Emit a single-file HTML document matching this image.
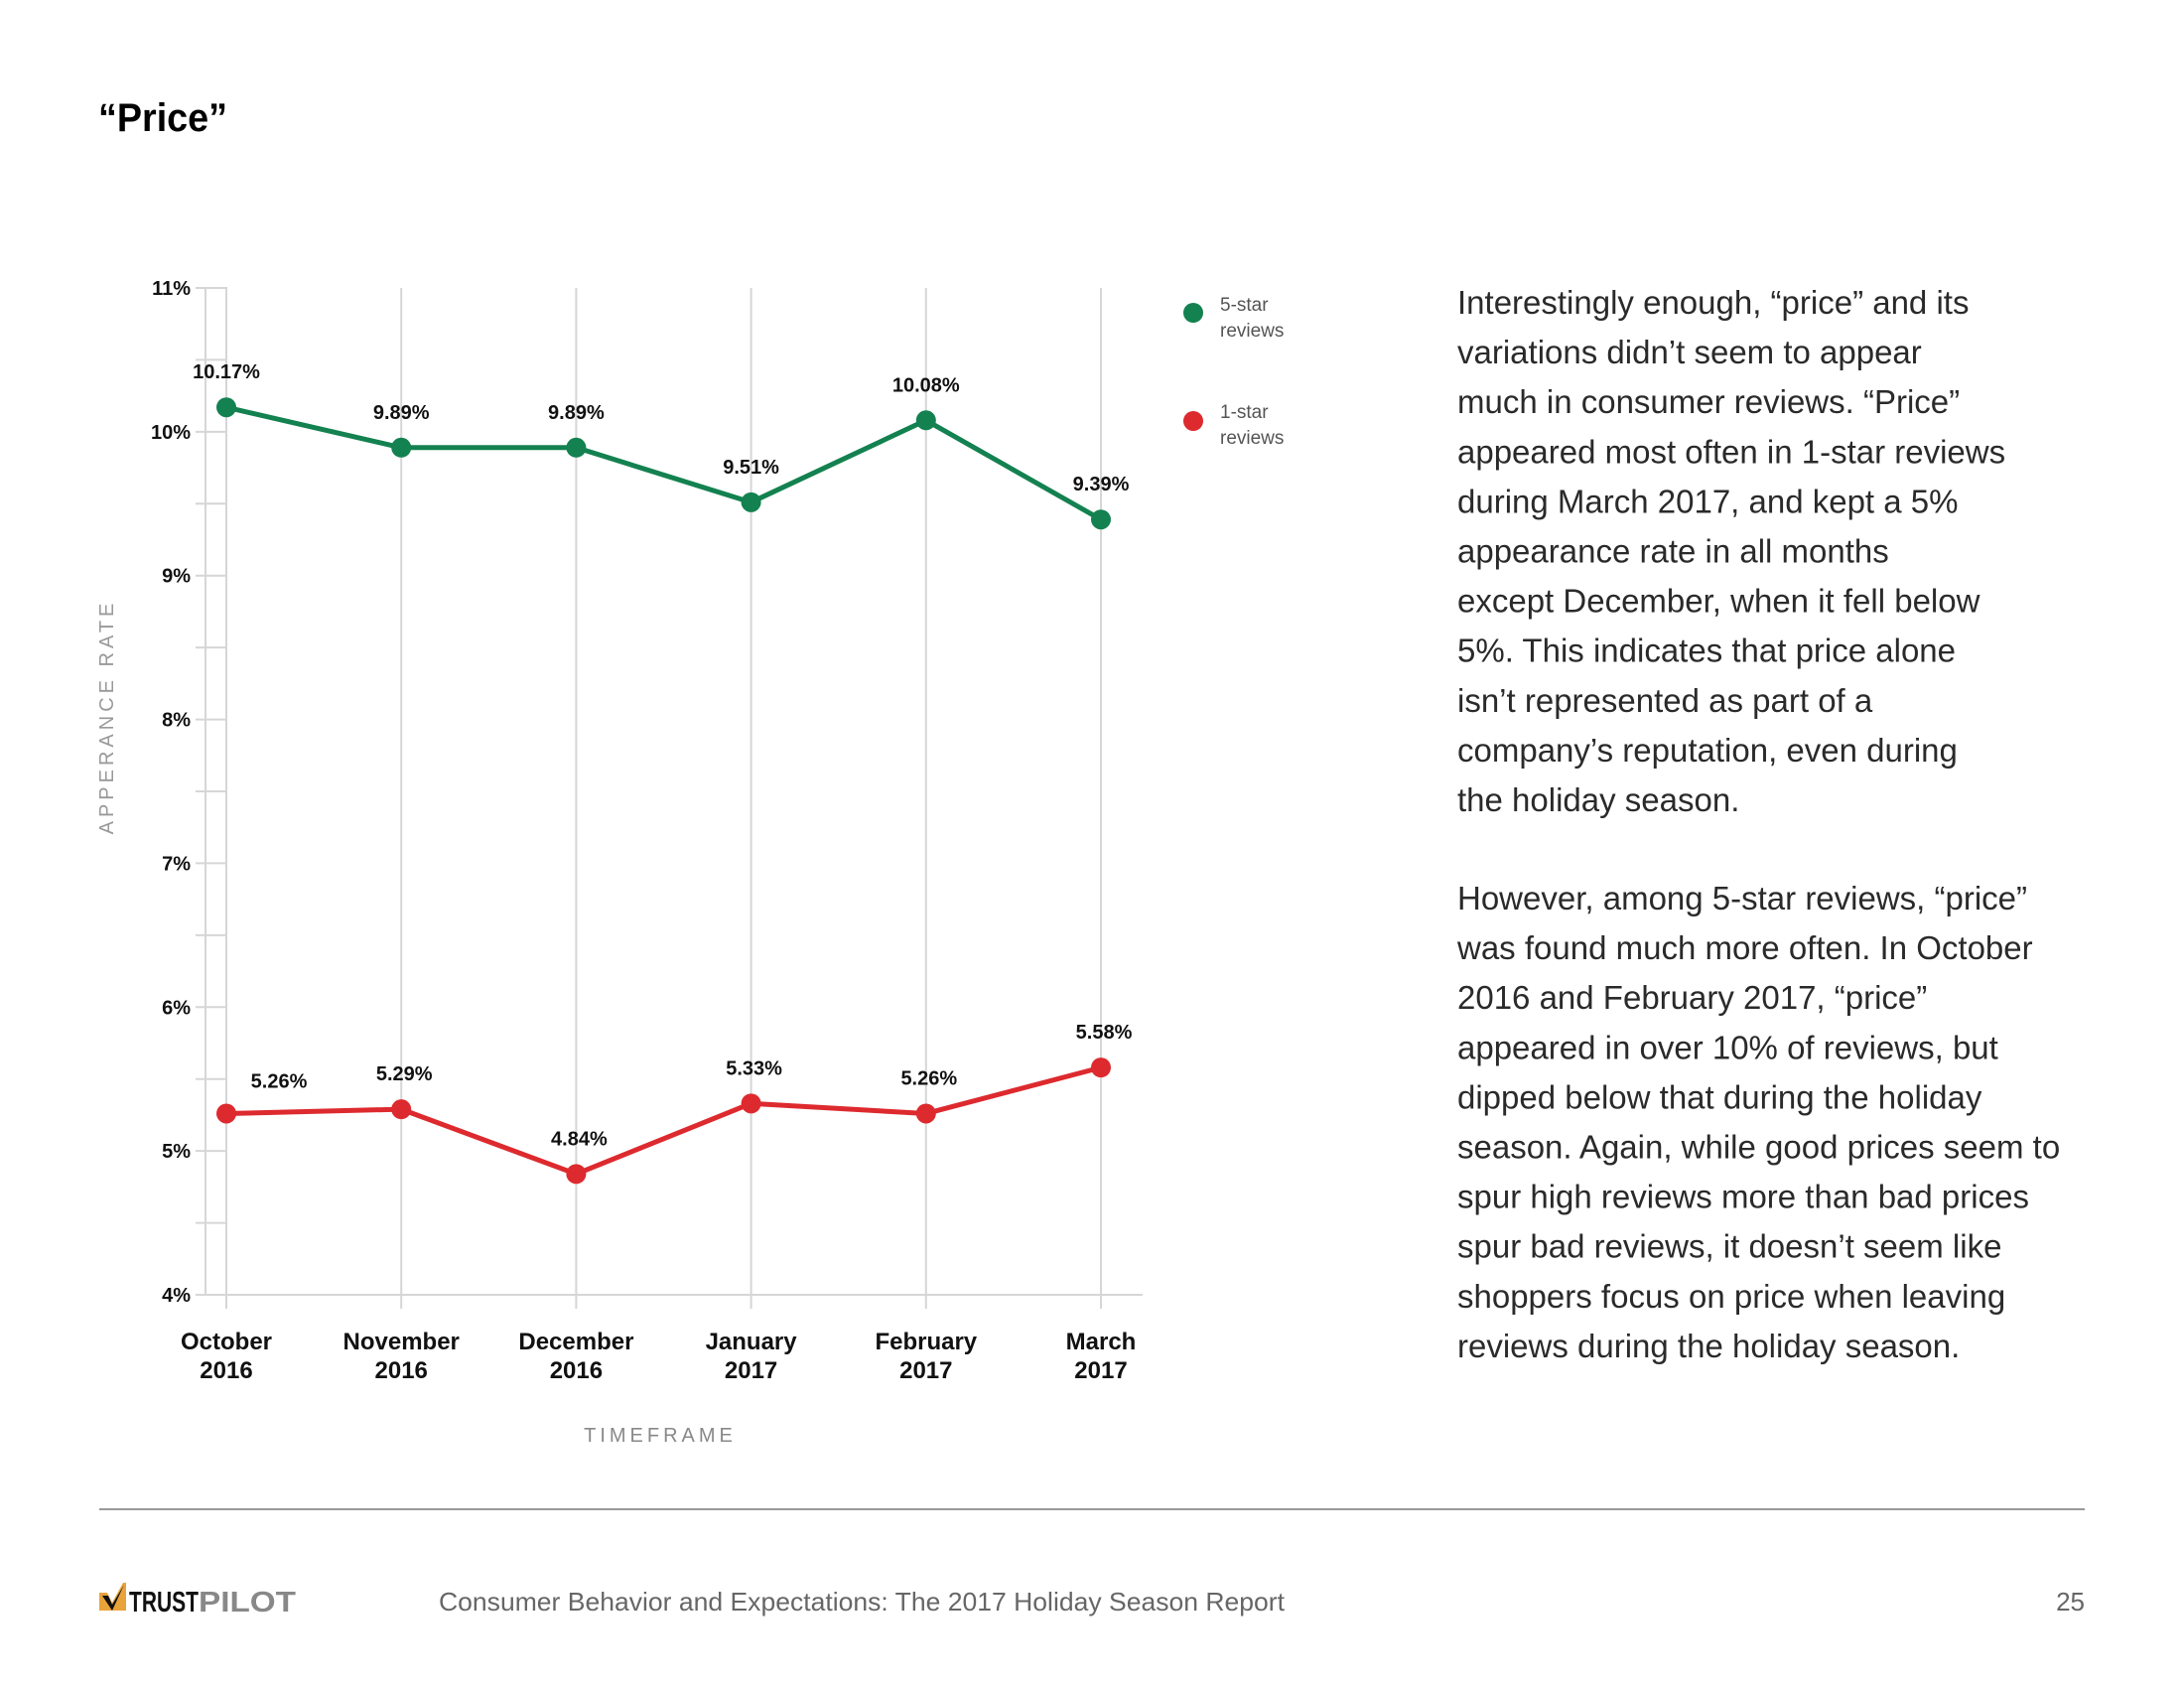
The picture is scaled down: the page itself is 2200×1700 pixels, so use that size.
<!DOCTYPE html>
<html><head><meta charset="utf-8"><style>
html,body{margin:0;padding:0;background:#fff;}
svg{display:block;font-family:"Liberation Sans",sans-serif;}
</style></head><body>
<svg id="page" width="2200" height="1700" viewBox="0 0 2200 1700">
<text x="99" y="132" font-size="40" font-weight="bold" fill="#000" textLength="130" lengthAdjust="spacingAndGlyphs">“Price”</text>
<g id="chart"></g>
<g>
 <g>
  <circle cx="1202" cy="315" r="10" fill="#138150"/>
  <text x="1229" y="313" font-size="19" fill="#555">5-star</text>
  <text x="1229" y="339" font-size="19" fill="#555">reviews</text>
 </g>
 <g>
  <circle cx="1202" cy="424" r="10" fill="#dd2a2e"/>
  <text x="1229" y="421" font-size="19" fill="#555">1-star</text>
  <text x="1229" y="447" font-size="19" fill="#555">reviews</text>
 </g>
</g>
<g id="para" font-size="33" fill="#2a2a2a"></g>
<line x1="100" y1="1520" x2="2100" y2="1520" stroke="#999" stroke-width="2"/>
<g>
 <path d="M100 1604 L108 1604 L113 1614 L124 1594 L127 1594 L127 1622 L100 1622 Z" fill="#e8a33a"/>
 <path d="M103 1607 L109 1607 L113 1616 L125 1596 L113 1622 Z" fill="#111"/>
 <text x="130" y="1623" font-size="29" font-weight="bold" fill="#111" textLength="70" lengthAdjust="spacingAndGlyphs">TRUST</text>
 <text x="200" y="1623" font-size="29" font-weight="bold" fill="#888" textLength="98" lengthAdjust="spacingAndGlyphs">PILOT</text>
</g>
<text x="442" y="1622" font-size="26" fill="#666" textLength="852" lengthAdjust="spacingAndGlyphs">Consumer Behavior and Expectations: The 2017 Holiday Season Report</text>
<text x="2100" y="1622" font-size="26" fill="#666" text-anchor="end">25</text>
</svg>
<script>
const categories1 = ["October","November","December","January","February","March"];
const categories2 = ["2016","2016","2016","2017","2017","2017"];
const fiveStar = [10.17, 9.89, 9.89, 9.51, 10.08, 9.39];
const oneStar = [5.26, 5.29, 4.84, 5.33, 5.26, 5.58];
const yTicks = [4,5,6,7,8,9,10,11];
const yTickLabels = ["4%","5%","6%","7%","8%","9%","10%","11%"];

const NS = "http://www.w3.org/2000/svg";
const chart = document.getElementById('chart');
const X0 = 228, X1 = 1109, Y0 = 1304, Y1 = 290, YMIN = 4, YMAX = 11;
function xs(i){ return X0 + i*(X1-X0)/(categories1.length-1); }
function ys(v){ return Y0 - (v-YMIN)*(Y0-Y1)/(YMAX-YMIN); }
function mk(tag, attrs, parent){ const e=document.createElementNS(NS,tag); for(const k in attrs) e.setAttribute(k,attrs[k]); (parent||chart).appendChild(e); return e; }

categories1.forEach((c,i)=>{
  const l = mk('line',{x1:xs(i),x2:xs(i),y1:Y1,y2:Y0+14,stroke:'#d6d6d6','stroke-width':2});
  
  
});
const ya = mk('line',{x1:207,x2:207,y1:Y1,y2:Y0,stroke:'#d6d6d6','stroke-width':2});


const xa = mk('line',{x1:197,x2:1151,y1:Y0,y2:Y0,stroke:'#d6d6d6','stroke-width':2});


for(let v=YMIN; v<=YMAX; v+=0.5){
  const t = mk('line',{x1:197,x2:229,y1:ys(v),y2:ys(v),stroke:'#d6d6d6','stroke-width':2});
  
  
}
yTicks.forEach((v,i)=>{
  const t = mk('text',{x:192,y:ys(v)+7,'font-size':20,'font-weight':'bold','text-anchor':'end',fill:'#111'});
  t.textContent = yTickLabels[i];
  
  
});
categories1.forEach((c,i)=>{
  const t = mk('text',{x:xs(i),y:1359,'font-size':24,'font-weight':'bold','text-anchor':'middle',fill:'#111'});
  t.textContent = c;
  
  
  const t2 = mk('text',{x:xs(i),y:1388,'font-size':24,'font-weight':'bold','text-anchor':'middle',fill:'#111'});
  t2.textContent = categories2[i];
  
  
});
const xt = mk('text',{x:665,y:1452,'font-size':20,'text-anchor':'middle',fill:'#888','letter-spacing':4});
xt.textContent='TIMEFRAME';


const yt = mk('text',{x:0,y:0,'font-size':20,'text-anchor':'middle',fill:'#999','letter-spacing':4,transform:'translate(114,722) rotate(-90)'});
yt.textContent='APPERANCE RATE';



function series(vals, color, name, labelOffsets){
  const pts = vals.map((v,i)=>xs(i)+','+ys(v)).join(' ');
  const pl = mk('polyline',{points:pts,fill:'none',stroke:color,'stroke-width':5,'stroke-linejoin':'round'});
  
  
  vals.forEach((v,i)=>{
    const c = mk('circle',{cx:xs(i),cy:ys(v),r:10,fill:color});
    
    
    const o = labelOffsets(i);
    const t = mk('text',{x:xs(i)+o[0],y:ys(v)+o[1],'font-size':20,'font-weight':'bold','text-anchor':'middle',fill:'#111'});
    t.textContent = v.toFixed(2)+'%';
    
    
  });
}
series(fiveStar,'#138150','five-star',i=>[0,-29]);
series(oneStar,'#dd2a2e','one-star',i=> i===0?[53,-26]:[3,-29]);

const lines1 = ["Interestingly enough, “price” and its","variations didn’t seem to appear","much in consumer reviews. “Price”","appeared most often in 1-star reviews","during March 2017, and kept a 5%","appearance rate in all months","except December, when it fell below","5%. This indicates that price alone","isn’t represented as part of a","company’s reputation, even during","the holiday season."];
const lines2 = ["However, among 5-star reviews, “price”","was found much more often. In October","2016 and February 2017, “price”","appeared in over 10% of reviews, but","dipped below that during the holiday","season. Again, while good prices seem to","spur high reviews more than bad prices","spur bad reviews, it doesn’t seem like","shoppers focus on price when leaving","reviews during the holiday season."];
const para = document.getElementById('para');
function writeLines(arr, y0){
  arr.forEach((s,i)=>{
    const t = mk('text',{x:1468,y:y0+i*50.1},para);
    t.textContent = s;
  });
}
writeLines(lines1, 316);
writeLines(lines2, 916);
</script>
</body></html>
